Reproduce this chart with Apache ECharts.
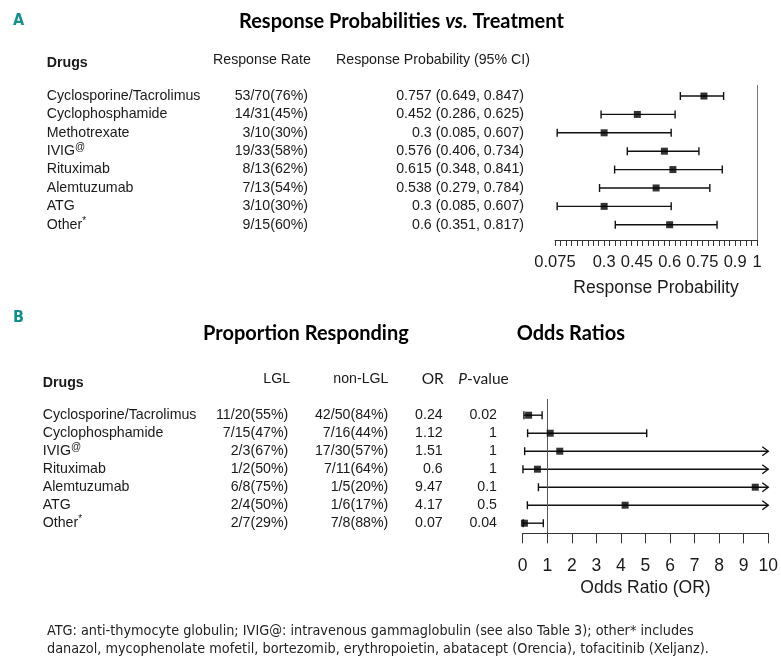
<!DOCTYPE html>
<html><head><meta charset="utf-8">
<script src="https://cdn.jsdelivr.net/npm/echarts@6/dist/echarts.min.js"></script>
<style>html,body{margin:0;padding:0;background:#fff}#c{width:781px;height:667px}</style>
</head><body><div id="c"></div>
<script>
// ---------- Panel A data ----------
const drugsA = ['Cyclosporine/Tacrolimus','Cyclophosphamide','Methotrexate','IVIG@','Rituximab','Alemtuzumab','ATG','Other*'];
const respondersA = [53,14,3,19,8,7,3,9];
const totalsA = [70,31,10,33,13,13,10,15];
const probA = [0.757,0.452,0.3,0.576,0.615,0.538,0.3,0.6];
const lowA = [0.649,0.286,0.085,0.406,0.348,0.279,0.085,0.351];
const highA = [0.847,0.625,0.607,0.734,0.841,0.784,0.607,0.817];
const tickLabelsA = [0.075,0.3,0.45,0.6,0.75,0.9,1];

// ---------- Panel B data ----------
const drugsB = ['Cyclosporine/Tacrolimus','Cyclophosphamide','IVIG@','Rituximab','Alemtuzumab','ATG','Other*'];
const lglResp = [11,7,2,1,6,2,2];
const lglTotal = [20,15,3,2,8,4,7];
const nonResp = [42,7,17,7,1,1,7];
const nonTotal = [50,16,30,11,5,6,8];
const orB = [0.24,1.12,1.51,0.6,9.47,4.17,0.07];
const pB = [0.02,1,1,1,0.1,0.5,0.04];
const orLow = [0.05,0.2,0.08,0.01,0.64,0.19,0.02];
const orHigh = [0.79,5.05,null,null,null,null,0.84];   // null = beyond axis (arrow)
const tickLabelsB = ['0','1','2','3','4','5','6','7','8','9','10'];

const footnote = 'ATG: anti-thymocyte globulin; IVIG@: intravenous gammaglobulin (see also Table 3); other* includes\ndanazol, mycophenolate mofetil, bortezomib, erythropoietin, abatacept (Orencia), tofacitinib (Xeljanz).';

// ---------- layout / style ----------
const xMinA = 0.075, xMaxA = 1, xMinB = 0, xMaxB = 10;
const TXT = '#1a1a1a';
const SANS = '"Liberation Sans", Arial, sans-serif';
const CAL = 'Lato, Carlito, sans-serif';
const NARROW = '"Liberation Sans Narrow", "DejaVu Sans Condensed", sans-serif';
const FS = 14.2;

const pct = (a,b) => `${a}/${b}(${Math.round(a/b*100)}%)`;
const rateA = respondersA.map((r,i)=>pct(r,totalsA[i]));
const ciA = probA.map((p,i)=>`${p} (${lowA[i]}, ${highA[i]})`);
const lglCol = lglResp.map((r,i)=>pct(r,lglTotal[i]));
const nonCol = nonResp.map((r,i)=>pct(r,nonTotal[i]));
const orCol = orB.map(String);
const pCol = pB.map(String);

function nameFmt(s){
  const last = s.slice(-1);
  if (last === '@' || last === '*') return `{n|${s.slice(0,-1)}}{s|${last}}`;
  return `{n|${s}}`;
}
const richName = {
  n:{fontSize:FS,fontFamily:SANS,color:TXT,lineHeight:17},
  s:{fontSize:10,fontFamily:SANS,color:TXT,verticalAlign:'top',lineHeight:10}
};

function colAxis(grid, data, offset, align, isName){
  return {type:'category', gridIndex:grid, inverse:true, data, position:'left', offset,
    axisLine:{show:false}, axisTick:{show:false}, splitLine:{show:false},
    axisLabel:Object.assign({interval:0, margin:0, align, fontSize:FS, fontFamily:SANS, color:TXT},
      isName ? {formatter:nameFmt, rich:richName} : {})};
}
function hiddenX(grid){ return {type:'value', gridIndex:grid, show:false, min:0, max:1}; }

function ciItem(capH, arrowL, arrowH){
  return function(params, api){
    const y = api.value(2);
    const p0 = api.coord([api.value(0), y]);
    const p1 = api.coord([api.value(1), y]);
    const open = api.value(3) === 1;
    const st = {stroke:'#111', lineWidth:1.4, fill:null};
    const ch = [
      {type:'line', shape:{x1:p0[0],y1:p0[1],x2:p1[0],y2:p1[1]}, style:st},
      {type:'line', shape:{x1:p0[0],y1:p0[1]-capH,x2:p0[0],y2:p0[1]+capH}, style:st}
    ];
    if (open) ch.push({type:'polyline', shape:{points:[[p1[0]-arrowL,p1[1]-arrowH],[p1[0],p1[1]],[p1[0]-arrowL,p1[1]+arrowH]]}, style:st});
    else ch.push({type:'line', shape:{x1:p1[0],y1:p1[1]-capH,x2:p1[0],y2:p1[1]+capH}, style:st});
    return {type:'group', children:ch};
  };
}

const chart = echarts.init(document.getElementById('c'), null, {renderer:'canvas'});
const T = (text, left, top, style) => ({text, left, top, padding:0, textStyle:Object.assign({color:TXT, fontFamily:SANS, fontSize:FS, fontWeight:'normal', lineHeight:17}, style||{})});

chart.setOption({
  backgroundColor:'#ffffff',
  animation:false,
  title:[
    T('A', 13, 12.5, {color:'#14908c', fontFamily:NARROW, fontWeight:'bold', fontSize:16, lineHeight:16}),
    T('B', 13, 310.3, {color:'#14908c', fontFamily:NARROW, fontWeight:'bold', fontSize:16, lineHeight:16}),
    T('{b|Response Probabilities }{i|vs.}{b| Treatment}', 239, 10.7, {lineHeight:22,
      rich:{b:{fontFamily:CAL,fontWeight:'bold',fontSize:20,color:'#000',lineHeight:22},
            i:{fontFamily:CAL,fontWeight:'bold',fontStyle:'italic',fontSize:20,color:'#000',lineHeight:22}}}),
    T('Proportion Responding', 203, 322.3, {fontFamily:CAL, fontWeight:'bold', fontSize:20, color:'#000', lineHeight:22}),
    T('Odds Ratios', 516.7, 322.3, {fontFamily:CAL, fontWeight:'bold', fontSize:20, color:'#000', lineHeight:22}),
    T('Drugs', 46.7, 54.8, {fontWeight:'bold'}),
    T('Response Rate', 213, 51.5),
    T('Response Probability (95% CI)', 336, 51.5),
    T('Drugs', 42.7, 374.2, {fontWeight:'bold'}),
    T('LGL', 263.3, 370.5),
    T('non-LGL', 333.3, 370.5),
    T('OR', 421.7, 370.8, {fontFamily:CAL, fontSize:15.5}),
    T('{i|P}{r|-value}', 458.3, 370.8, {rich:{i:{fontFamily:CAL,fontSize:15.5,fontStyle:'italic',color:TXT},r:{fontFamily:CAL,fontSize:15.5,color:TXT}}}),
    T(footnote, 47, 622, {fontFamily:NARROW, fontSize:14.3, lineHeight:18, color:'#222'})
  ],
  grid:[
    {left:555, width:202, top:85, height:155},        // A forest
    {left:524, width:1, top:86.8, height:147.1},      // A table
    {left:522.7, width:245.6, top:399, height:134.3}, // B forest
    {left:497, width:1, top:406.2, height:126}        // B table
  ],
  xAxis:[
    {type:'value', gridIndex:0, min:xMinA, max:xMaxA, interval:0.025,
      axisLine:{show:true, onZero:false, lineStyle:{color:'#333', width:1}},
      axisTick:{show:true, length:6, lineStyle:{color:'#333'}},
      splitLine:{show:false},
      axisLabel:{customValues:tickLabelsA, margin:14, fontSize:16.5, fontFamily:SANS, color:TXT,
        formatter:(v)=>String(v)},
      name:'Response Probability', nameLocation:'middle', nameGap:39,
      nameTextStyle:{fontSize:17.5, fontFamily:SANS, color:TXT}},
    hiddenX(1),
    {type:'value', gridIndex:2, min:xMinB, max:xMaxB, interval:1,
      axisLine:{show:true, onZero:false, lineStyle:{color:'#333', width:1}},
      axisTick:{show:true, length:10, lineStyle:{color:'#333'}},
      splitLine:{show:false},
      axisLabel:{margin:24, fontSize:17.5, fontFamily:SANS, color:TXT, showMinLabel:true, showMaxLabel:true,
        formatter:(v)=>tickLabelsB[Math.round(v)]},
      name:'Odds Ratio (OR)', nameLocation:'middle', nameGap:46,
      nameTextStyle:{fontSize:17.5, fontFamily:SANS, color:TXT}},
    hiddenX(3)
  ],
  yAxis:[
    {type:'value', gridIndex:0, inverse:true, min:-0.6, max:7.83, show:false},
    colAxis(1, drugsA, 524-46.7, 'left', true),
    colAxis(1, rateA, 524-308, 'right'),
    colAxis(1, ciA, 0, 'right'),
    {type:'value', gridIndex:2, inverse:true, min:-0.9, max:6.561, show:false},
    colAxis(3, drugsB, 497-42.7, 'left', true),
    colAxis(3, lglCol, 497-288.3, 'right'),
    colAxis(3, nonCol, 497-388.3, 'right'),
    colAxis(3, orCol, 497-442.7, 'right'),
    colAxis(3, pCol, 0, 'right')
  ],
  series:[
    {type:'custom', xAxisIndex:0, yAxisIndex:0, clip:false,
      data:lowA.map((l,i)=>[l, highA[i], i, 0]), encode:{x:[0,1], y:2},
      renderItem:ciItem(4, 6, 4.5), silent:true},
    {type:'scatter', xAxisIndex:0, yAxisIndex:0, symbol:'rect', symbolSize:7,
      data:probA.map((p,i)=>[p,i]), itemStyle:{color:'#000'}, z:5, silent:true,
      markLine:{silent:true, symbol:['none','none'], label:{show:false},
        lineStyle:{color:'#777', width:1, type:'solid'}, data:[{xAxis:xMaxA}]}},
    {type:'custom', xAxisIndex:2, yAxisIndex:4, clip:false,
      data:orLow.map((l,i)=>[l, orHigh[i]==null?xMaxB:orHigh[i], i, orHigh[i]==null?1:0]), encode:{x:[0,1], y:2},
      renderItem:ciItem(4, 6, 4.5), silent:true},
    {type:'scatter', xAxisIndex:2, yAxisIndex:4, symbol:'rect', symbolSize:7,
      data:orB.map((v,i)=>[v,i]), itemStyle:{color:'#000'}, z:5, silent:true,
      markLine:{silent:true, symbol:['none','none'], label:{show:false},
        lineStyle:{color:'#555', width:1, type:'solid'}, data:[{xAxis:1}]}}
  ]
});
</script></body></html>
